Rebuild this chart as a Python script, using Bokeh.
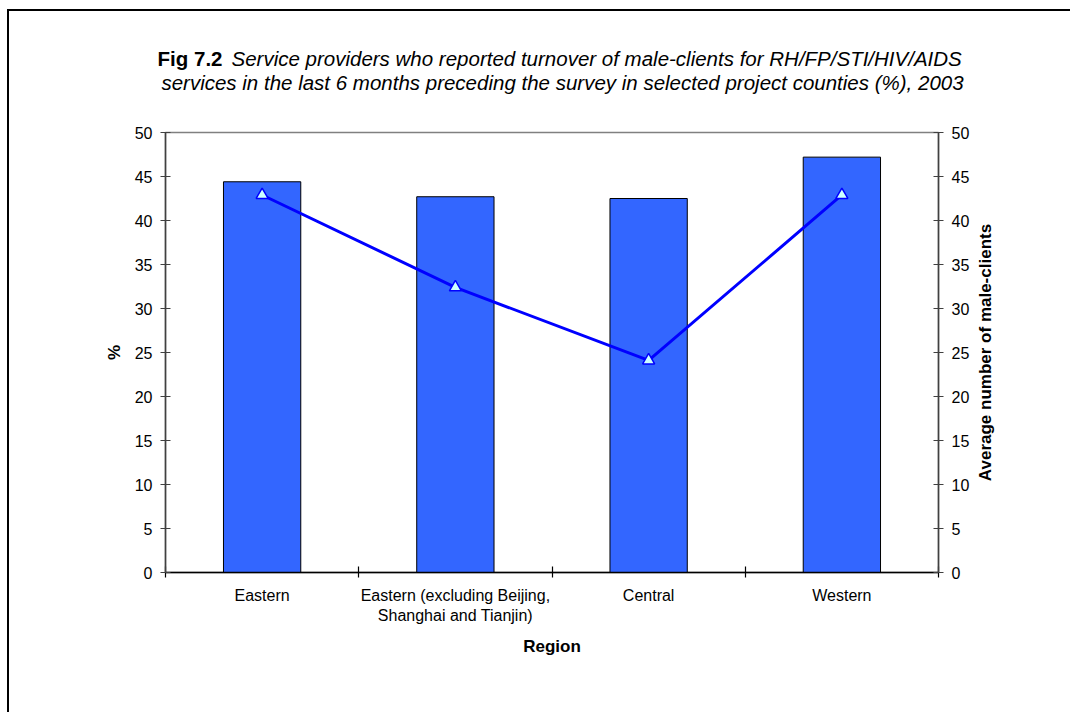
import math
from bokeh.plotting import figure
from bokeh.layouts import row
from bokeh.models import (Range1d, LinearAxis, FixedTicker, Label, ColumnDataSource)
from bokeh.embed import file_html
from bokeh.resources import INLINE

# Survey data by region
regions = ["Eastern", "Eastern (excluding Beijing,\nShanghai and Tianjin)", "Central", "Western"]
pct_reporting = [44.4, 42.7, 42.5, 47.2]          # % of providers (bars, left axis)
avg_male_clients = [42.9, 32.4, 24.1, 42.9]       # average number of male-clients (line, right axis)
y_ticks = [0, 5, 10, 15, 20, 25, 30, 35, 40, 45, 50]

FONT = "Liberation Sans"
WIDTH = 1063
TITLE_H = 100
CHART_H = 603
CHART_W = 966
SIDE_W = WIDTH - CHART_W

# ---- title strip: pixel-sized data ranges so text can be placed in pixels ----
t = figure(width=WIDTH, height=TITLE_H, x_range=Range1d(0, WIDTH), y_range=Range1d(0, TITLE_H),
           output_backend="svg", toolbar_location=None,
           min_border=0, x_axis_location=None, y_axis_location=None)
t.xgrid.visible = False
t.ygrid.visible = False
t.outline_line_color = None
t.background_fill_color = "white"
t.border_fill_color = "white"
t.styles = {
    "margin-left": "7px", "margin-top": "9px",
    "border-left": "2px solid #000000", "border-top": "2px solid #000000",
}

title_size = "20.5px"
t.add_layout(Label(x=213, y=53, text="Fig 7.2",
                   text_font=FONT, text_font_style="bold", text_font_size=title_size,
                   text_baseline="middle", text_align="right", text_color="#000000"))
t.add_layout(Label(x=222, y=53,
                   text="Service providers who reported turnover of male-clients  for RH/FP/STI/HIV/AIDS",
                   text_font=FONT, text_font_style="italic", text_font_size=title_size,
                   text_baseline="middle", text_align="left", text_color="#000000"))
t.add_layout(Label(x=553, y=29,
                   text="services in the last 6 months preceding the survey in selected project counties (%), 2003",
                   text_font=FONT, text_font_style="italic", text_font_size=title_size,
                   text_baseline="middle", text_align="center", text_color="#000000"))

# ---- chart ----
centers = [i + 0.5 for i in range(len(regions))]
src = ColumnDataSource(dict(x=centers, pct=pct_reporting, avg=avg_male_clients))

p = figure(
    width=CHART_W, height=CHART_H,
    x_range=Range1d(0, len(regions)), y_range=Range1d(0, 50),
    output_backend="svg", toolbar_location=None,
    min_border_left=156, min_border_right=37,
    min_border_top=23, min_border_bottom=140,
    x_axis_location=None, y_axis_location=None,
)
p.styles = {"margin-left": "7px", "border-left": "2px solid #000000"}
p.xgrid.visible = False
p.ygrid.visible = False
p.outline_line_color = "#808080"
p.outline_line_width = 1.5
p.background_fill_color = "white"
p.border_fill_color = "white"

p.extra_y_ranges = {"clients": Range1d(0, 50)}

# Left axis: percentage
left = LinearAxis(ticker=FixedTicker(ticks=y_ticks), axis_label="%")
# Right axis: average number of male-clients (its title sits in the side strip)
right = LinearAxis(ticker=FixedTicker(ticks=y_ticks), y_range_name="clients")
for ax in (left, right):
    ax.axis_line_color = "#404040"
    ax.axis_line_width = 1.5
    ax.major_tick_line_color = "#404040"
    ax.major_tick_line_width = 1.2
    ax.major_tick_in = 5
    ax.major_tick_out = 5
    ax.minor_tick_line_color = None
    ax.major_label_text_font = FONT
    ax.major_label_text_font_size = "16px"
    ax.major_label_text_color = "#000000"
    ax.axis_label_text_font = FONT
    ax.axis_label_text_font_style = "bold"
    ax.axis_label_text_font_size = "17px"
    ax.axis_label_text_color = "#000000"
left.major_label_standoff = 8
left.axis_label_standoff = 8
right.major_label_standoff = 8
p.add_layout(left, "left")
p.add_layout(right, "right")

# Bottom axis: region names centred, tick marks on category boundaries
bottom = LinearAxis(
    ticker=FixedTicker(ticks=centers, minor_ticks=list(range(len(regions) + 1))),
    axis_label="Region",
)
bottom.major_label_overrides = {c: r for c, r in zip(centers, regions)}
bottom.axis_line_color = "#000000"
bottom.axis_line_width = 1.5
bottom.major_tick_line_color = None
bottom.major_tick_in = 0
bottom.major_tick_out = 5
bottom.minor_tick_line_color = "#000000"
bottom.minor_tick_line_width = 1.2
bottom.minor_tick_in = 6
bottom.minor_tick_out = 5
bottom.major_label_text_font = FONT
bottom.major_label_text_font_size = "16px"
bottom.major_label_text_color = "#000000"
bottom.major_label_standoff = 9
bottom.axis_label_text_font = FONT
bottom.axis_label_text_font_style = "bold"
bottom.axis_label_text_font_size = "17px"
bottom.axis_label_text_color = "#000000"
bottom.axis_label_standoff = 10
p.add_layout(bottom, "below")

# Bars: share of providers reporting turnover
p.vbar(x="x", top="pct", width=0.4, source=src,
       fill_color="#3366FF", line_color="#000000", line_width=1)

# Line with triangle markers: average male-clients
p.line(x="x", y="avg", source=src, y_range_name="clients",
       line_color="#0000FF", line_width=3)
p.scatter(x="x", y="avg", source=src, y_range_name="clients", marker="triangle",
          size=12, fill_color="#CCFFFF", line_color="#0000FF", line_width=1.5)

# ---- side strip holding the right-hand axis title, read bottom to top ----
s = figure(width=SIDE_W, height=CHART_H, x_range=Range1d(0, SIDE_W), y_range=Range1d(0, 50),
           output_backend="svg", toolbar_location=None,
           min_border_left=0, min_border_right=0, min_border_top=23, min_border_bottom=140,
           x_axis_location=None, y_axis_location=None)
s.xgrid.visible = False
s.ygrid.visible = False
s.outline_line_color = None
s.background_fill_color = "white"
s.border_fill_color = "white"
s.add_layout(Label(x=12, y=25, angle=math.pi / 2, text="Average number of male-clients",
                   text_font=FONT, text_font_style="bold", text_font_size="17px",
                   text_baseline="middle", text_align="center", text_color="#000000"))

open("out.html", "w").write(file_html([t, row(p, s, spacing=0)], INLINE))
